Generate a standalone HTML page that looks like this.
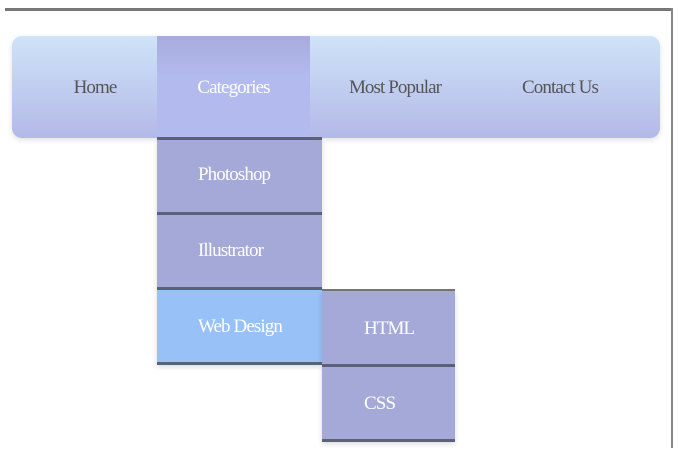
<!DOCTYPE html>
<html><head><style>
body{margin:0;width:680px;height:458px;background:#fff;position:relative;overflow:hidden;font-family:"Liberation Serif","DejaVu Serif","Times New Roman",serif;}
.a{position:absolute;}
.t{position:absolute;font-size:19px;letter-spacing:-0.9px;text-align:center;line-height:20px;}
.sub{position:absolute;background:#a4a9d8;border-bottom:3px solid #5a6378;box-shadow:0 2px 5px rgba(0,0,0,0.15);}
.sub span{position:absolute;color:#fff;font-size:19px;letter-spacing:-0.9px;white-space:nowrap;}
</style></head><body>
<div class="a" style="left:5px;top:8px;width:668px;height:3px;background:#777;"></div>
<div class="a" style="left:671px;top:8px;width:2px;height:440px;background:#888;"></div>
<div class="a" style="left:12px;top:36px;width:648px;height:102px;border-radius:10px;background:linear-gradient(#cfe3f8,#b3b9e8);box-shadow:0 2px 6px rgba(0,0,0,0.12);"></div>
<div class="a" style="left:157px;top:36px;width:153px;height:102px;background:linear-gradient(#a8acdc,#b3baee 40%,#b3baee);"></div>
<div class="t" style="left:40px;width:110px;top:78px;color:#555;">Home</div>
<div class="t" style="left:157px;width:153px;top:78px;color:#fff;">Categories</div>
<div class="t" style="left:330px;width:130px;top:78px;color:#555;">Most Popular</div>
<div class="t" style="left:495px;width:130px;top:78px;color:#555;">Contact Us</div>
<div class="a" style="left:157px;top:137px;width:165px;height:3px;background:#5a6378;"></div>
<div class="sub" style="left:157px;top:140px;width:165px;height:72px;"><span style="top:24px;left:41px">Photoshop</span></div>
<div class="sub" style="left:157px;top:215px;width:165px;height:72px;"><span style="top:25px;left:41px">Illustrator</span></div>
<div class="sub" style="left:157px;top:290px;width:165px;height:72px;background:#97c1f7;"><span style="top:26px;left:41px">Web Design</span></div>
<div class="a" style="left:322px;top:289px;width:133px;height:2px;background:#777;"></div>
<div class="sub" style="left:322px;top:291px;width:133px;height:73px;"><span style="top:27px;left:42px">HTML</span></div>
<div class="sub" style="left:322px;top:367px;width:133px;height:72px;"><span style="top:26px;left:42px">CSS</span></div>
</body></html>
